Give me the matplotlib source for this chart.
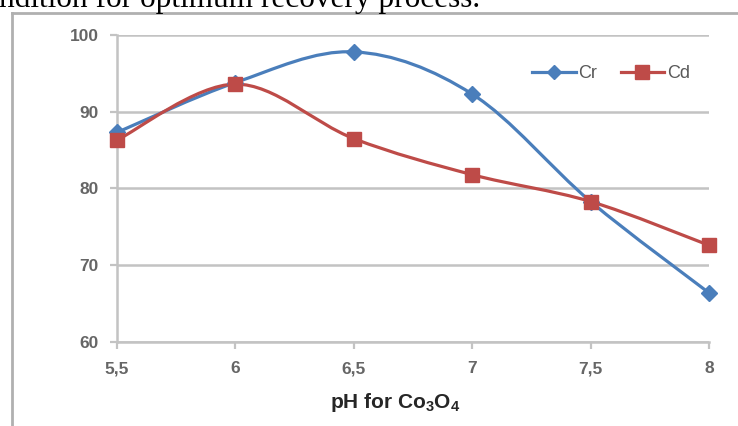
"""Cr and Cd recovery vs pH for Co3O4."""

import numpy as np
import matplotlib
matplotlib.use("Agg")
import matplotlib.pyplot as plt
from matplotlib.path import Path
from matplotlib.patches import PathPatch
from matplotlib.lines import Line2D

ph = [5.5, 6.0, 6.5, 7.0, 7.5, 8.0]
cr = [87.3, 93.8, 97.8, 92.3, 78.3, 66.4]
cd = [86.3, 93.6, 86.5, 81.8, 78.3, 72.6]
x_ticks = [5.5, 6.0, 6.5, 7.0, 7.5, 8.0]
x_labels = ["5,5", "6", "6,5", "7", "7,5", "8"]
y_ticks = [60, 70, 80, 90, 100]

BLUE = "#4a7ebb"
RED = "#be4b48"
GRID = "#c3c3c3"
FONT = ["Liberation Sans", "DejaVu Sans"]

plt.rcParams["mathtext.fontset"] = "custom"
plt.rcParams["mathtext.rm"] = "Liberation Sans:bold"
plt.rcParams["mathtext.default"] = "rm"


def _smooth_path(x, y):
    """Excel-like smoothed line: cubic Bezier through the points."""
    p = np.column_stack([x, y]).astype(float)
    verts = [p[0]]
    codes = [Path.MOVETO]
    n = len(p)
    for i in range(n - 1):
        p0 = p[i - 1] if i > 0 else p[i]
        p3 = p[i + 2] if i + 2 < n else p[i + 1]
        c1 = p[i] + (p[i + 1] - p0) / 6.0
        c2 = p[i + 1] - (p3 - p[i]) / 6.0
        verts += [c1, c2, p[i + 1]]
        codes += [Path.CURVE4] * 3
    return Path(verts, codes)


def plot_series(ax, x, y, color, marker, ms, label):
    ax.add_patch(PathPatch(_smooth_path(x, y), facecolor="none",
                           edgecolor=color, lw=2.3, zorder=3,
                           capstyle="round"))
    ax.plot(x, y, ls="none", marker=marker, ms=ms, color=color,
            mec=color, zorder=4, clip_on=False)
    return Line2D([], [], color=color, lw=2.3, marker=marker, ms=ms * 0.9,
                  label=label)


fig = plt.figure(figsize=(7.38, 4.26), dpi=100)
ax = fig.add_axes([0.1585, 0.1972, 0.8022, 0.7207])

# caption fragment cut off at the top of the page
fig.text(-0.002, 1 - 7 / 426, "ndition for optimum recovery process.",
         family="Liberation Serif", fontsize=22.5, va="baseline",
         ha="left", color="black")

# outer chart frame
fig.add_artist(Line2D([12 / 738, 12 / 738], [0, 1 - 13 / 426],
                      transform=fig.transFigure, color="#b0b0b0", lw=2))
fig.add_artist(Line2D([12 / 738, 1.0], [1 - 13 / 426, 1 - 13 / 426],
                      transform=fig.transFigure, color="#b0b0b0", lw=2))

h_cr = plot_series(ax, ph, cr, BLUE, "D", 8, "Cr")
h_cd = plot_series(ax, ph, cd, RED, "s", 10.5, "Cd")

ax.set_xlim(5.5, 8)
ax.set_ylim(60, 100)
ax.set_xticks(x_ticks)
ax.set_xticklabels(x_labels)
ax.set_yticks(y_ticks)
ax.yaxis.grid(True, color=GRID, lw=1.8)
ax.set_axisbelow(True)

for side in ["top", "right"]:
    ax.spines[side].set_visible(False)
for side in ["left", "bottom"]:
    ax.spines[side].set_color(GRID)
    ax.spines[side].set_linewidth(1.8)

ax.tick_params(axis="both", colors=GRID, length=5, width=1.6,
               labelcolor="#666666", labelsize=12.5)
ax.tick_params(axis="y", pad=8)
ax.tick_params(axis="x", pad=9)
for lab in ax.get_xticklabels() + ax.get_yticklabels():
    lab.set_family(FONT)
    lab.set_fontweight("bold")

ax.set_xlabel("pH for Co$_3$O$_4$", family=FONT, fontsize=15,
              fontweight="bold", color="#262626")
ax.xaxis.set_label_coords(0.47, -0.16)

leg = ax.legend(handles=[h_cr, h_cd], loc="upper right",
                bbox_to_anchor=(0.995, 0.955), ncol=2, frameon=False,
                handlelength=2.4, columnspacing=1.3, handletextpad=0.15,
                prop={"family": FONT, "size": 13})
for t in leg.get_texts():
    t.set_color("#595959")

fig.savefig("out.png", dpi=100)
